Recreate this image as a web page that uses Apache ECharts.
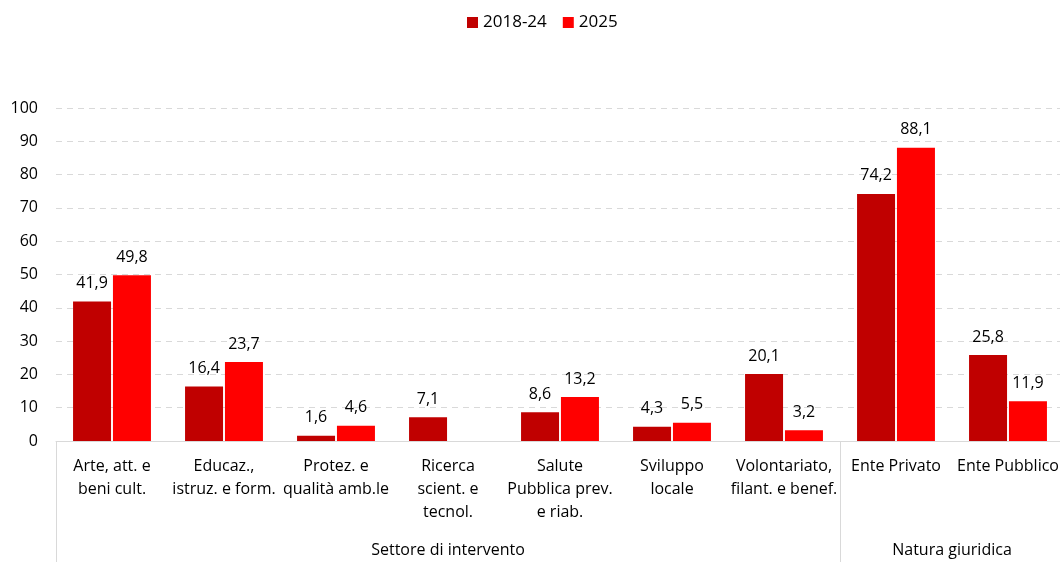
<!DOCTYPE html>
<html>
<head>
<meta charset="utf-8">
<script src="https://cdn.jsdelivr.net/npm/echarts@6/dist/echarts.min.js"></script>
<style>html,body{margin:0;padding:0;background:#fff;overflow:hidden;}#c{width:1064px;height:562px;}</style>
</head>
<body>
<div id="c"></div>
<script>
var categories = ["Arte, att. e\nbeni cult.", "Educaz.,\nistruz. e form.", "Protez. e\nqualità amb.le", "Ricerca\nscient. e\ntecnol.", "Salute\nPubblica prev.\ne riab.", "Sviluppo\nlocale", "Volontariato,\nfilant. e benef.", "Ente Privato", "Ente Pubblico"];
var seriesNames = ["2018-24", "2025"];
var values2018 = [41.9, 16.4, 1.6, 7.1, 8.6, 4.3, 20.1, 74.2, 25.8];
var values2025 = [49.8, 23.7, 4.6, null, 13.2, 5.5, 3.2, 88.1, 11.9];
var groups = [{name: "Settore di intervento", from: 0, to: 7}, {name: "Natura giuridica", from: 7, to: 9}];
var yTicks = {min: 0, max: 100, interval: 10};

var FONT = "'Open Sans', 'Liberation Sans', Arial, sans-serif";
var chart = echarts.init(document.getElementById('c'), null, {renderer: 'canvas'});
function fmt(v) { return String(v).replace('.', ','); }
var labelCfg = {
  show: true, position: 'top', distance: 10, color: '#000', fontSize: 16, fontFamily: FONT,
  formatter: function (p) { return p.value == null ? '' : fmt(p.value); }
};
var option = {
  animation: false,
  textStyle: {fontFamily: FONT},
  legend: {
    top: 9, left: 462, itemWidth: 11, itemHeight: 11, itemGap: 16,
    icon: 'rect',
    textStyle: {fontSize: 17, color: '#000', fontFamily: FONT},
    data: seriesNames
  },
  grid: {left: 56, top: 108, right: 0, bottom: 121, containLabel: false},
  xAxis: {
    type: 'category', data: categories,
    axisLine: {show: true, lineStyle: {color: '#d9d9d9', width: 1}},
    axisTick: {show: false},
    axisLabel: {interval: 0, color: '#000', fontSize: 16, lineHeight: 23, margin: 14, fontFamily: FONT, hideOverlap: false}
  },
  yAxis: {
    type: 'value', min: yTicks.min, max: yTicks.max, interval: yTicks.interval,
    axisLine: {show: false}, axisTick: {show: false},
    axisLabel: {color: '#000', fontSize: 16, margin: 18, fontFamily: FONT},
    splitLine: {lineStyle: {color: '#d9d9d9', type: [6, 5], width: 1}}
  },
  series: [
    {name: seriesNames[0], type: 'bar', data: values2018, barWidth: 38, barGap: '5%',
     itemStyle: {color: '#C00000'}, label: labelCfg},
    {name: seriesNames[1], type: 'bar', data: values2025, barWidth: 38, barGap: '5%',
     itemStyle: {color: '#FF0000'}, label: labelCfg}
  ]
};
chart.setOption(option);

// group separators and group labels, positioned from the axis scale
var y0 = chart.convertToPixel({gridIndex: 0}, [0, 0])[1];
var catW = chart.convertToPixel({gridIndex: 0}, [1, 0])[0] - chart.convertToPixel({gridIndex: 0}, [0, 0])[0];
function boundary(i) { return chart.convertToPixel({gridIndex: 0}, [0, 0])[0] - catW / 2 + i * catW; }
var elements = [];
groups.forEach(function (g, gi) {
  var xa = boundary(g.from), xb = boundary(g.to);
  elements.push({type: 'line', shape: {x1: Math.round(xa) + 0.5, y1: y0, x2: Math.round(xa) + 0.5, y2: 562},
    style: {stroke: '#d9d9d9', lineWidth: 1}, silent: true});
  elements.push({type: 'text', x: (xa + xb) / 2, y: 550,
    style: {text: g.name, fill: '#000', font: '16px ' + FONT, textAlign: 'center', textVerticalAlign: 'middle'}});
});
chart.setOption({graphic: {elements: elements}});
</script>
</body>
</html>
